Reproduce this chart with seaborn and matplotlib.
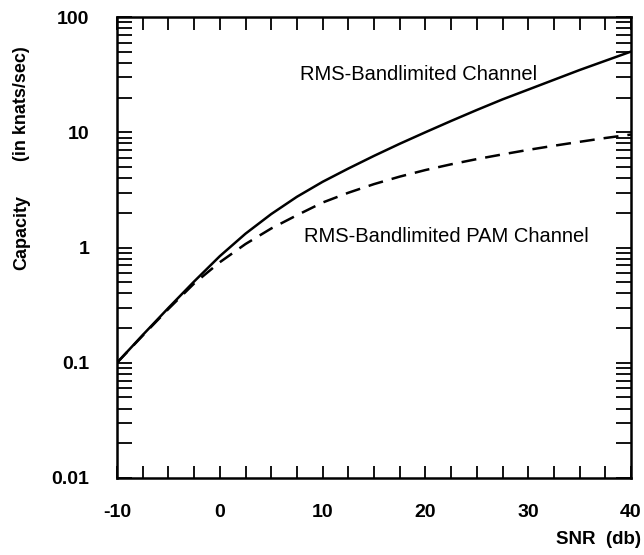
import numpy as np
import pandas as pd
import seaborn as sns
import matplotlib
matplotlib.use("Agg")
import matplotlib.pyplot as plt
from matplotlib.ticker import MultipleLocator, LogLocator, NullFormatter, FixedLocator

snr_db = [-10, -7.5, -5, -2.5, 0, 2.5, 5, 7.5, 10, 12.5, 15, 17.5, 20,
          22.5, 25, 27.5, 30, 32.5, 35, 37.5, 40]
cap_rms = [0.100, 0.174, 0.299, 0.507, 0.841, 1.318, 1.950, 2.754, 3.715, 4.842, 6.237,
           7.943, 10.0, 12.53, 15.60, 19.28, 23.44, 28.51, 34.67, 41.69, 50.12]
cap_pam = [0.100, 0.172, 0.293, 0.487, 0.745, 1.072, 1.462, 1.905, 2.455, 2.985, 3.548,
           4.121, 4.699, 5.272, 5.848, 6.427, 7.031, 7.638, 8.260, 8.913, 9.55]

x_ticks = [-10, 0, 10, 20, 30, 40]
y_ticks = [0.01, 0.1, 1, 10, 100]
y_ticklabels = ["0.01", "0.1", "1", "10", "100"]

sns.set_theme(style="white")
plt.rcParams['font.family'] = ['Liberation Sans', 'DejaVu Sans']
plt.rcParams['text.color'] = 'black'
plt.rcParams['xtick.color'] = 'black'
plt.rcParams['ytick.color'] = 'black'

df = pd.DataFrame({"snr": snr_db, "rms": cap_rms, "pam": cap_pam})

fig = plt.figure(figsize=(6.44, 5.55), dpi=100)
ax = fig.add_axes([117/644, 77/555, 514/644, 461/555])

sns.lineplot(data=df, x="snr", y="rms", ax=ax, color="black", linewidth=1.8)
sns.lineplot(data=df, x="snr", y="pam", ax=ax, color="black", linewidth=1.8,
             linestyle=(0, (6, 3.6)))

ax.set_yscale("log")
ax.set_xlim(-10, 40)
ax.set_ylim(0.01, 100)

ax.xaxis.set_major_locator(FixedLocator(x_ticks))
ax.xaxis.set_minor_locator(MultipleLocator(2.5))
ax.yaxis.set_major_locator(FixedLocator(y_ticks))
ax.yaxis.set_minor_locator(LogLocator(base=10, subs=np.arange(2, 10)))
ax.yaxis.set_minor_formatter(NullFormatter())
ax.set_yticklabels(y_ticklabels)
ax.set_xticklabels([str(t) for t in x_ticks])

ax.tick_params(which="both", direction="in", top=True, right=True, left=True, bottom=True,
               width=1.3, color="black")
ax.tick_params(axis="x", which="both", length=9)
ax.tick_params(axis="y", which="both", length=11)
ax.tick_params(axis="x", which="major", pad=19, labelsize=14)
ax.tick_params(axis="y", which="major", pad=20, labelsize=14)
for lab in ax.get_xticklabels() + ax.get_yticklabels():
    lab.set_fontweight("bold")

for s in ax.spines.values():
    s.set_color("black")
    s.set_linewidth(1.8)

ax.set_xlabel("")
ax.set_ylabel("")
ax.grid(False)

ax.text(7.8, 32, "RMS-Bandlimited Channel", fontsize=14.5, va="center", ha="left")
ax.text(8.2, 1.25, "RMS-Bandlimited PAM Channel", fontsize=14.5, va="center", ha="left")

fig.text(22/644, 1 - 233/555, "Capacity", rotation=90, fontsize=13, fontweight="bold",
         ha="center", va="center")
fig.text(22/644, 1 - 104/555, "(in knats/sec)", rotation=90, fontsize=13, fontweight="bold",
         ha="center", va="center")
fig.text(641/644, 1 - 540/555, "SNR  (db)", fontsize=13.5, fontweight="bold",
         ha="right", va="center")

fig.savefig("out.png", dpi=100)
